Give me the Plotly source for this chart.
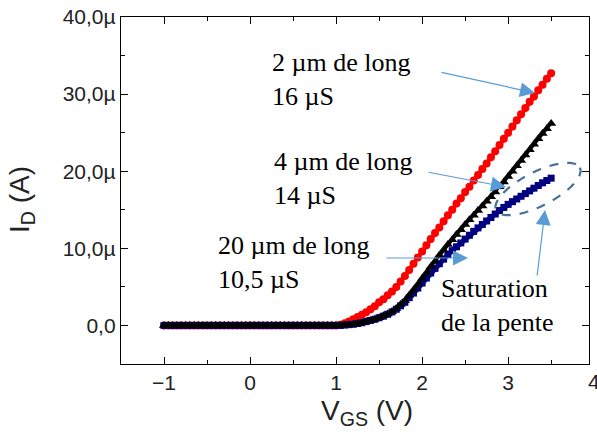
import numpy as np
import plotly.graph_objects as go

# ---- data ----
V_GS = [-1.00, -0.95, -0.90, -0.85, -0.80, -0.75, -0.70, -0.65, -0.60, -0.55,
        -0.50, -0.45, -0.40, -0.35, -0.30, -0.25, -0.20, -0.15, -0.10, -0.05,
        0.00, 0.05, 0.10, 0.15, 0.20, 0.25, 0.30, 0.35, 0.40, 0.45,
        0.50, 0.55, 0.60, 0.65, 0.70, 0.75, 0.80, 0.85, 0.90, 0.95,
        1.00, 1.05, 1.10, 1.15, 1.20, 1.25, 1.30, 1.35, 1.40, 1.45,
        1.50, 1.55, 1.60, 1.65, 1.70, 1.75, 1.80, 1.85, 1.90, 1.95,
        2.00, 2.05, 2.10, 2.15, 2.20, 2.25, 2.30, 2.35, 2.40, 2.45,
        2.50, 2.55, 2.60, 2.65, 2.70, 2.75, 2.80, 2.85, 2.90, 2.95,
        3.00, 3.05, 3.10, 3.15, 3.20, 3.25, 3.30, 3.35, 3.40, 3.45, 3.50]

OFF = [0.0, 0.0, 0.0, 0.0, 0.0, 0.0, 0.0, 0.0, 0.0, 0.0,
       0.0, 0.0, 0.0, 0.0, 0.0, 0.0, 0.0, 0.0, 0.0, 0.0,
       0.0, 0.0, 0.0, 0.0, 0.0, 0.0, 0.0, 0.0, 0.0, 0.0,
       0.0, 0.0, 0.0, 0.0, 0.0, 0.0, 0.0, 0.0, 0.0, 0.0]

# drain current in microamps, V_GS >= 1.0
ID_2um = [0.0, 0.1, 0.3, 0.5, 0.8, 1.1, 1.4, 1.7, 2.1, 2.5,
          3.0, 3.4, 3.9, 4.4, 5.0, 5.7, 6.4, 7.2, 8.0, 8.8,
          9.6, 10.4, 11.2, 12.0, 12.7, 13.5, 14.3, 15.0, 15.8, 16.5,
          17.3, 18.0, 18.8, 19.5, 20.3, 21.0, 21.8, 22.6, 23.4, 24.2,
          25.0, 25.8, 26.6, 27.4, 28.2, 29.0, 29.7, 30.5, 31.2, 32.0, 32.7]
ID_4um = [0.0, 0.0, 0.05, 0.1, 0.15, 0.25, 0.35, 0.5, 0.65, 0.8,
          1.0, 1.25, 1.5, 1.8, 2.2, 2.7, 3.2, 3.9, 4.6, 5.3,
          6.1, 6.8, 7.6, 8.3, 9.1, 9.8, 10.5, 11.1, 11.8, 12.4,
          13.1, 13.7, 14.3, 14.9, 15.5, 16.1, 16.7, 17.3, 18.0, 18.6,
          19.3, 20.0, 20.7, 21.4, 22.1, 22.8, 23.5, 24.2, 24.9, 25.5, 26.2]
ID_20um = [0.0, 0.0, 0.05, 0.1, 0.15, 0.25, 0.35, 0.5, 0.65, 0.8,
           1.0, 1.2, 1.45, 1.75, 2.1, 2.55, 3.0, 3.6, 4.2, 4.85,
           5.5, 6.15, 6.8, 7.4, 8.0, 8.6, 9.2, 9.7, 10.2, 10.7,
           11.2, 11.7, 12.2, 12.65, 13.1, 13.55, 14.0, 14.45, 14.9, 15.3,
           15.7, 16.05, 16.4, 16.75, 17.1, 17.45, 17.8, 18.15, 18.5, 18.8, 19.1]

Y_TICKS = [0, 10, 20, 30, 40]
Y_TICK_TEXT = ["0,0", "10,0µ", "20,0µ", "30,0µ", "40,0µ"]
X_TICKS = [-1, 0, 1, 2, 3]

# ---- layout geometry (pixels) ----
W, H = 597, 434
L, R, T, B = 121, 8, 17, 70
PW, PH = W - L - R, H - T - B


def px(x):
    return (x - L) / PW


def py(y):
    return (H - B - y) / PH


fig = go.Figure()
fig.add_trace(go.Scatter(x=V_GS, y=OFF + ID_2um, mode="lines+markers",
                         line=dict(color="#ff0000", width=4),
                         marker=dict(symbol="circle", size=8, color="#ff0000"),
                         showlegend=False))
fig.add_trace(go.Scatter(x=V_GS, y=OFF + ID_20um, mode="lines+markers",
                         line=dict(color="#000080", width=5),
                         marker=dict(symbol="square", size=7, color="#000080"),
                         showlegend=False))
fig.add_trace(go.Scatter(x=V_GS, y=OFF + ID_4um, mode="lines+markers",
                         line=dict(color="#000000", width=3),
                         marker=dict(symbol="triangle-up", size=9, color="#000000"),
                         showlegend=False))

axis_common = dict(showline=True, linecolor="black", linewidth=1.3, mirror="allticks",
                   ticks="inside", ticklen=7, tickwidth=1.3, tickcolor="black",
                   showgrid=False, zeroline=False,
                   tickfont=dict(family="Liberation Sans", size=21, color="#222"))

fig.update_xaxes(range=[-1.5, 3.94], tickmode="array", tickvals=X_TICKS,
                 minor=dict(ticks="inside", ticklen=4, dtick=0.5, tick0=-1, tickcolor="black", tickwidth=1.2),
                 **axis_common)
fig.update_yaxes(range=[-5, 40], tickmode="array", tickvals=Y_TICKS, ticktext=Y_TICK_TEXT,
                 minor=dict(ticks="inside", ticklen=4, dtick=5, tick0=0, tickcolor="black", tickwidth=1.2),
                 **axis_common)

serif = dict(family="Liberation Serif", size=26, color="black")
sans_title = dict(family="Liberation Sans", size=28, color="#222")
arrow_col = "#5b9bd5"

annotations = [
    dict(text="I<sub>D</sub> (A)", x=px(22), y=py(200), textangle=-90, font=sans_title),
    dict(text="V<sub>GS</sub> (V)", x=px(367), y=py(412), font=sans_title),
    dict(text="4", x=px(594), y=py(368), yanchor="top", font=dict(family="Liberation Sans", size=21, color="#222")),
    dict(text="2 µm de long<br>16 µS", x=px(270), y=py(80), xanchor="left", align="left", font=serif),
    dict(text="4 µm de long<br>14 µS", x=px(272), y=py(178), xanchor="left", align="left", font=serif),
    dict(text="20 µm de long<br>10,5 µS", x=px(216), y=py(262), xanchor="left", align="left", font=serif),
    dict(text="Saturation<br>de la pente", x=px(439), y=py(305), xanchor="left", align="left", font=serif),
]
for a in annotations:
    a.update(xref="paper", yref="paper", showarrow=False)
    a.setdefault("xanchor", "center")
    a.setdefault("yanchor", "middle")

arrows = [((440, 72), (535, 93)), ((427, 172), (506, 187)),
          ((385, 258), (468, 258)), ((537, 277), (545, 210))]
for (tx, ty), (hx, hy) in arrows:
    annotations.append(dict(x=px(hx), y=py(hy), xref="paper", yref="paper", text="",
                            showarrow=True, ax=tx - hx, ay=ty - hy, axref="pixel", ayref="pixel",
                            arrowhead=2, arrowsize=2.5, arrowwidth=1.2, arrowcolor=arrow_col,
                            standoff=0, startstandoff=0))

# dashed tilted ellipse around the saturating curve
cx, cy, a_, b_, th = 538, 189, 47, 17, np.deg2rad(-27)
t = np.linspace(0, 2 * np.pi, 80)
ex = cx + a_ * np.cos(th) * np.cos(t) - b_ * np.sin(th) * np.sin(t)
ey = cy + a_ * np.sin(th) * np.cos(t) + b_ * np.cos(th) * np.sin(t)
path = "M " + " L ".join(f"{px(x):.4f},{py(y):.4f}" for x, y in zip(ex, ey)) + " Z"

fig.update_layout(
    width=W, height=H, margin=dict(l=L, r=R, t=T, b=B, autoexpand=False),
    paper_bgcolor="white", plot_bgcolor="white",
    annotations=annotations,
    shapes=[dict(type="path", path=path, xref="paper", yref="paper",
                 line=dict(color="#41719c", width=2.2, dash="dash"))],
)

fig.write_html("out.html", config={"displayModeBar": False},
               post_script="document.body.style.margin='0';document.body.style.overflow='hidden';")
